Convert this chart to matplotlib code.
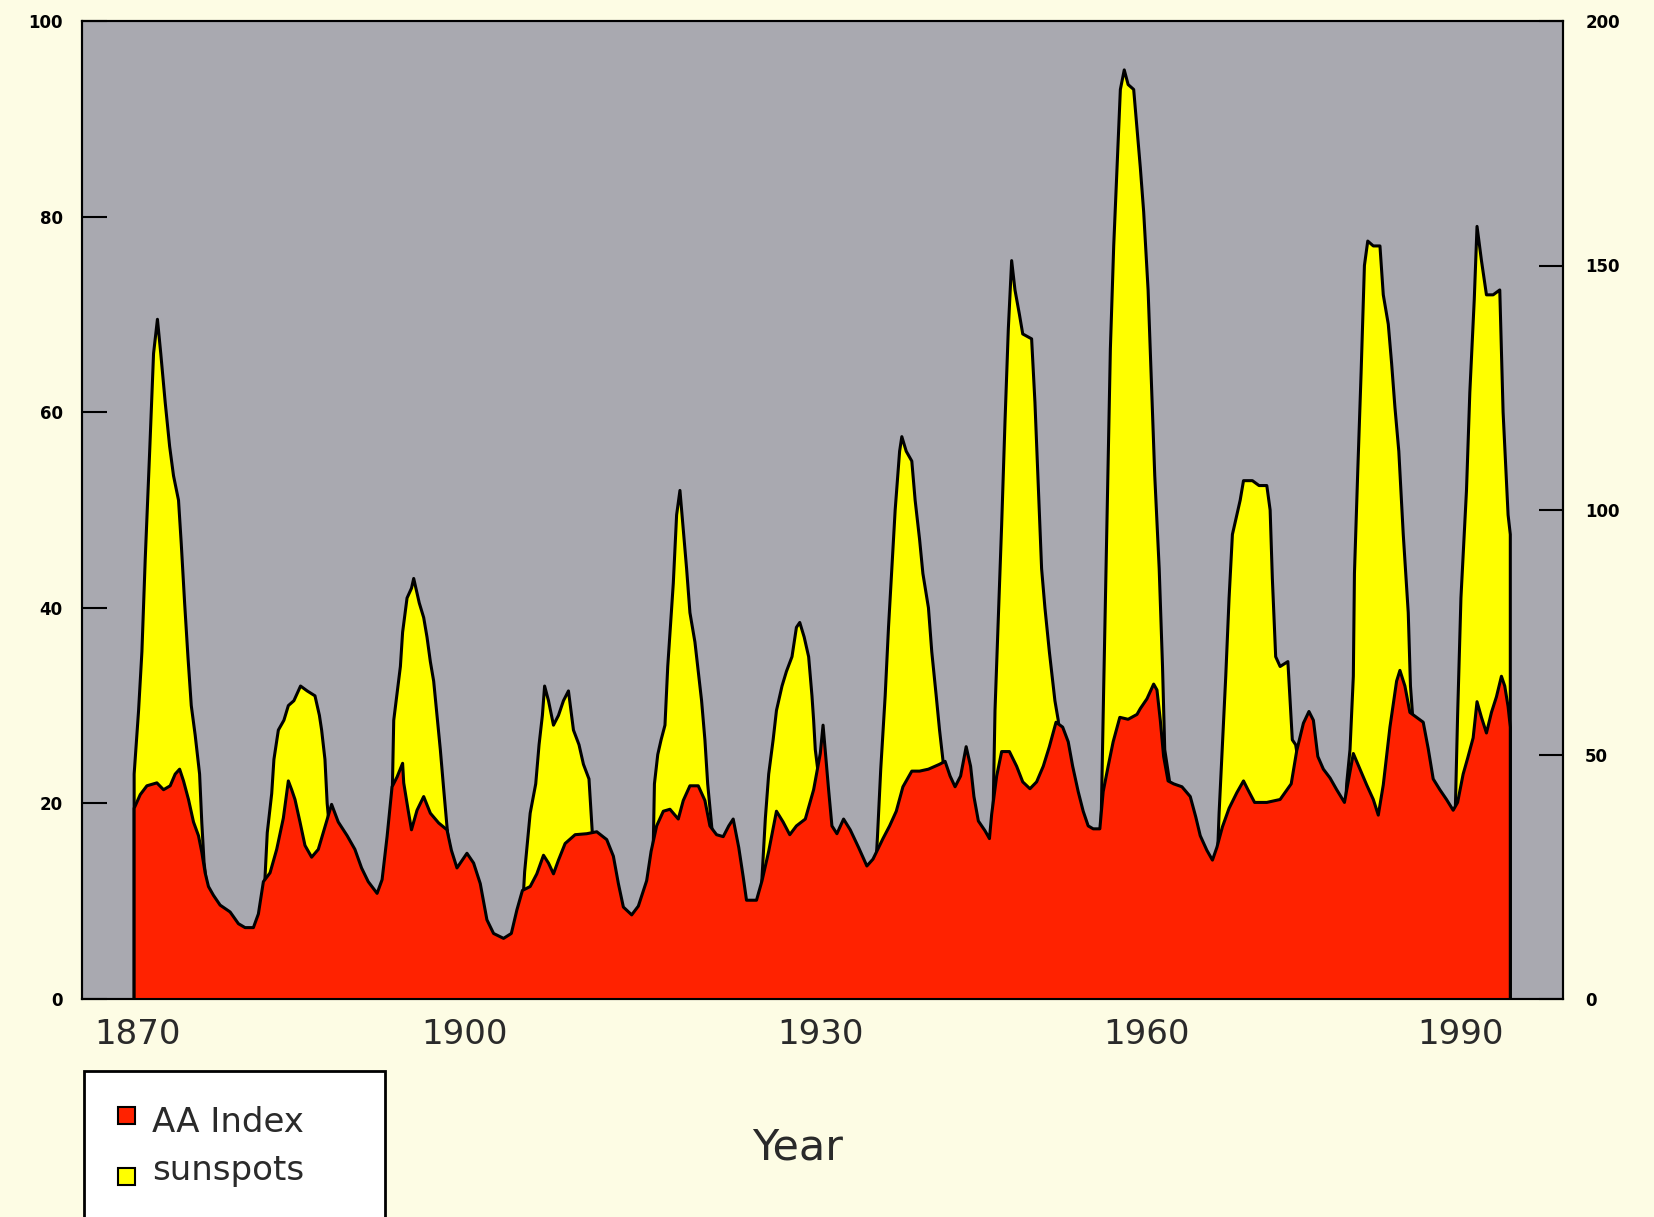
import numpy as np
import matplotlib
matplotlib.use('Agg')
import matplotlib.pyplot as plt
from matplotlib.patches import Rectangle

plt.rcParams['font.family'] = ['DejaVu Sans']

# smoothed sunspot number (right axis), vertices
ss_years = [1868.0, 1868.4, 1868.7, 1869.0, 1869.4, 1869.75, 1870.1, 1870.4, 1870.8, 1871.2,
            1871.55, 1872.0, 1872.25, 1872.55, 1872.85, 1873.15, 1873.5, 1873.9, 1874.1, 1874.3,
            1874.7, 1875.5, 1876.5, 1877.5, 1878.5, 1879.2, 1879.6, 1879.8, 1880.0, 1880.4,
            1880.6, 1881.0, 1881.5, 1881.9, 1882.4, 1883.0, 1883.6, 1884.3, 1884.7, 1884.9,
            1885.2, 1885.4, 1885.8, 1886.5, 1887.5, 1888.5, 1889.5, 1890.3, 1890.8, 1891.25,
            1891.4, 1892.0, 1892.2, 1892.6, 1893.0, 1893.2, 1893.7, 1894.1, 1894.4, 1894.7,
            1895.0, 1895.3, 1895.6, 1895.9, 1896.25, 1896.8, 1897.8, 1898.6, 1899.5, 1900.5,
            1901.5, 1902.5, 1903.0, 1903.2, 1903.7, 1904.2, 1904.5, 1904.8, 1905.0, 1905.35,
            1905.8, 1906.25, 1906.7, 1907.15, 1907.6, 1908.1, 1908.5, 1909.0, 1909.3, 1910.0,
            1911.0, 1912.0, 1913.0, 1914.0, 1914.7, 1914.8, 1914.9, 1915.2, 1915.5, 1915.85,
            1916.1, 1916.6, 1916.9, 1917.2, 1917.5, 1917.8, 1918.1, 1918.55, 1918.85, 1919.15,
            1919.45, 1919.7, 1920.2, 1921.0, 1922.0, 1923.2, 1924.0, 1924.5, 1924.6, 1924.9,
            1925.2, 1925.6, 1925.9, 1926.4, 1926.8, 1927.3, 1927.7, 1928.0, 1928.4, 1928.8,
            1929.1, 1929.25, 1929.4, 1930.0, 1931.0, 1932.0, 1933.3, 1934.2, 1934.8, 1935.0,
            1935.3, 1935.7, 1936.0, 1936.3, 1936.6, 1937.0, 1937.2, 1937.6, 1938.1, 1938.4,
            1938.8, 1939.1, 1939.6, 1939.9, 1940.3, 1940.6, 1940.9, 1941.5, 1942.5, 1943.5,
            1944.3, 1945.1, 1945.4, 1945.6, 1945.9, 1946.2, 1946.5, 1946.8, 1947.1, 1947.4,
            1947.8, 1948.1, 1948.9, 1949.2, 1949.5, 1949.8, 1950.1, 1950.5, 1951.0, 1951.3,
            1952.0, 1953.0, 1954.0, 1955.0, 1955.2, 1955.4, 1955.7, 1956.0, 1956.3, 1956.6,
            1956.9, 1957.25, 1957.6, 1958.1, 1958.4, 1958.7, 1959.0, 1959.4, 1959.7, 1960.0,
            1960.4, 1960.7, 1960.9, 1961.3, 1961.6, 1962.5, 1963.5, 1964.5, 1965.5, 1965.8,
            1966.1, 1966.4, 1966.7, 1967.0, 1967.4, 1967.7, 1968.0, 1968.8, 1969.4, 1970.1,
            1970.4, 1970.6, 1970.9, 1971.3, 1972.0, 1972.4, 1972.7, 1973.2, 1974.0, 1975.0,
            1976.0, 1977.0, 1977.3, 1977.6, 1977.9, 1978.0, 1978.3, 1978.6, 1978.9, 1979.2,
            1979.7, 1980.3, 1980.6, 1981.05, 1981.35, 1981.65, 1982.0, 1982.4, 1982.85, 1983.05,
            1983.5, 1984.5, 1985.5, 1986.5, 1987.0, 1987.3, 1987.6, 1988.1, 1988.4, 1988.8,
            1989.05, 1989.45, 1989.9, 1990.5, 1991.1, 1991.4, 1991.85, 1992.05]
ss_values = [46, 59, 71, 90, 112, 132, 139, 132, 122, 113,
             107, 102, 93, 81, 70, 60, 54, 46, 36, 28,
             20, 12, 8, 5, 3, 8, 18, 25, 34, 42,
             49, 55, 57, 60, 61, 64, 63, 62, 58, 55,
             49, 40, 30, 24, 16, 10, 6, 8, 18, 40,
             57, 68, 75, 82, 84, 86, 81, 78, 74, 69,
             65, 58, 51, 43, 34, 26, 22, 18, 10, 5,
             3, 8, 18, 26, 38, 44, 52, 58, 64, 61,
             56, 58, 61, 63, 55, 52, 48, 45, 34, 25,
             14, 6, 3, 12, 28, 32, 44, 50, 53, 56,
             68, 85, 99, 104, 96, 88, 79, 73, 67, 61,
             53, 44, 32, 26, 15, 6, 10, 20, 25, 37,
             46, 53, 59, 64, 67, 70, 76, 77, 74, 70,
             62, 57, 51, 40, 22, 12, 6, 8, 25, 33,
             47, 62, 76, 88, 100, 112, 115, 112, 110, 102,
             94, 87, 80, 71, 62, 55, 49, 35, 25, 15,
             8, 20, 35, 59, 78, 97, 118, 137, 151, 145,
             140, 136, 135, 122, 105, 88, 80, 71, 61, 57,
             40, 25, 10, 20, 40, 64, 98, 133, 154, 170,
             186, 190, 187, 186, 178, 170, 161, 145, 126, 107,
             88, 68, 51, 45, 40, 30, 25, 12, 20, 38,
             52, 66, 82, 95, 99, 102, 106, 106, 105, 105,
             100, 86, 70, 68, 69, 53, 52, 45, 35, 20,
             15, 30, 44, 51, 66, 87, 108, 128, 150, 155,
             154, 154, 144, 138, 130, 121, 112, 95, 79, 64,
             50, 40, 22, 14, 30, 58, 82, 104, 124, 143,
             158, 151, 144, 144, 145, 120, 99, 95]

# aa geomagnetic index (left axis)
aa_years = [1868.0, 1868.55, 1869.15, 1870.05, 1870.65, 1871.25, 1871.7, 1872.1, 1872.45, 1872.9,
            1873.35, 1873.8, 1874.1, 1874.4, 1874.7, 1875.15, 1875.75, 1876.65, 1877.4, 1878.0,
            1878.75, 1879.2, 1879.65, 1880.25, 1880.85, 1881.45, 1881.9, 1882.2, 1882.5, 1882.95,
            1883.4, 1884.0, 1884.6, 1885.2, 1885.8, 1886.4, 1887.2, 1887.9, 1888.5, 1889.1,
            1889.9, 1890.35, 1890.8, 1891.25, 1891.7, 1892.2, 1892.3, 1892.7, 1893.0, 1893.5,
            1894.1, 1894.7, 1895.45, 1896.2, 1896.6, 1897.1, 1898.0, 1898.6, 1899.2, 1899.8,
            1900.4, 1901.3, 1902.0, 1902.5, 1903.0, 1903.7, 1904.3, 1904.9, 1905.35, 1905.8,
            1906.25, 1906.85, 1907.75, 1908.8, 1909.7, 1910.6, 1911.2, 1911.65, 1912.1, 1912.85,
            1913.45, 1914.2, 1914.6, 1915.1, 1915.7, 1916.3, 1917.05, 1917.5, 1918.1, 1918.85,
            1919.45, 1919.9, 1920.5, 1921.1, 1921.6, 1922.0, 1922.5, 1922.9, 1923.2, 1924.1,
            1924.6, 1925.2, 1925.9, 1926.5, 1927.1, 1927.7, 1928.5, 1929.25, 1929.85, 1930.1,
            1930.6, 1930.9, 1931.35, 1931.95, 1932.55, 1933.3, 1934.05, 1934.6, 1935.5, 1936.1,
            1936.7, 1937.3, 1938.1, 1938.8, 1939.6, 1940.6, 1941.1, 1941.55, 1942.0, 1942.5,
            1943.0, 1943.4, 1943.7, 1944.1, 1944.7, 1945.1, 1945.3, 1945.75, 1946.2, 1946.9,
            1947.55, 1948.1, 1948.75, 1949.35, 1949.95, 1950.5, 1951.1, 1951.7, 1952.2, 1952.6,
            1953.1, 1953.55, 1954.0, 1954.45, 1955.05, 1955.35, 1955.8, 1956.25, 1956.85, 1957.6,
            1958.4, 1958.7, 1959.3, 1959.9, 1960.2, 1960.5, 1960.8, 1961.2, 1961.7, 1962.45,
            1963.2, 1963.7, 1964.1, 1964.7, 1965.2, 1965.6, 1966.1, 1966.7, 1967.4, 1968.0,
            1968.4, 1969.0, 1970.1, 1971.3, 1972.3, 1972.8, 1973.4, 1973.9, 1974.3, 1974.7,
            1975.2, 1975.8, 1976.4, 1977.1, 1977.9, 1978.5, 1979.1, 1979.7, 1980.15, 1980.6,
            1981.2, 1981.8, 1982.1, 1982.55, 1983.0, 1983.6, 1984.2, 1984.65, 1985.1, 1985.7,
            1986.3, 1986.9, 1987.3, 1987.8, 1988.2, 1988.7, 1989.05, 1989.45, 1989.9, 1990.35,
            1990.8, 1991.25, 1991.55, 1991.85, 1992.05]
aa_values = [19.5, 20.9, 21.8, 22.1, 21.4, 21.8, 23.0, 23.5, 22.3, 20.4,
             18.1, 16.7, 15.0, 12.9, 11.5, 10.6, 9.6, 8.9, 7.7, 7.3,
             7.3, 8.7, 12.0, 12.9, 15.3, 18.5, 22.3, 21.4, 20.4, 18.1,
             15.7, 14.5, 15.3, 17.6, 19.9, 18.1, 16.7, 15.3, 13.4, 12.0,
             10.8, 12.2, 16.6, 21.7, 22.7, 24.1, 22.1, 19.3, 17.3, 19.3,
             20.7, 19.0, 18.0, 17.3, 15.2, 13.4, 14.9, 13.9, 11.8, 8.1,
             6.7, 6.2, 6.7, 9.1, 11.1, 11.5, 12.8, 14.7, 13.9, 12.8,
             14.2, 15.9, 16.8, 16.9, 17.1, 16.3, 14.6, 11.8, 9.4, 8.6,
             9.5, 12.1, 15.1, 17.7, 19.2, 19.4, 18.4, 20.3, 21.8, 21.8,
             20.3, 17.7, 16.8, 16.6, 17.7, 18.4, 15.5, 12.5, 10.1, 10.1,
             12.1, 15.1, 19.2, 18.1, 16.8, 17.7, 18.4, 21.4, 25.1, 28.0,
             21.4, 17.7, 16.9, 18.4, 17.3, 15.5, 13.6, 14.3, 16.4, 17.7,
             19.2, 21.7, 23.3, 23.3, 23.5, 24.0, 24.3, 22.8, 21.7, 22.8,
             25.8, 23.8, 20.7, 18.2, 17.2, 16.4, 18.9, 22.8, 25.3, 25.3,
             23.8, 22.2, 21.5, 22.2, 23.8, 25.8, 28.3, 27.8, 26.3, 23.8,
             21.2, 19.2, 17.7, 17.4, 17.4, 21.2, 23.8, 26.3, 28.8, 28.6,
             29.1, 29.7, 30.7, 32.2, 31.6, 28.5, 24.8, 22.3, 22.0, 21.7,
             20.7, 18.6, 16.7, 15.2, 14.2, 15.5, 17.6, 19.5, 21.1, 22.3,
             21.4, 20.1, 20.1, 20.4, 22.0, 25.4, 28.2, 29.4, 28.5, 24.8,
             23.5, 22.6, 21.4, 20.1, 25.1, 23.5, 21.9, 20.4, 18.8, 21.9,
             27.8, 32.5, 33.6, 32.0, 29.3, 28.8, 28.3, 25.6, 22.5, 21.4,
             20.4, 19.3, 20.1, 23.0, 24.6, 26.7, 30.4, 28.8, 27.2, 29.3,
             30.9, 33.0, 32.0, 29.9, 27.8]

# x labels sit where the original printed them
tick_pos = [1868.3, 1897.8, 1929.9, 1959.3, 1987.6]
tick_labels = ['1870', '1900', '1930', '1960', '1990']

cream = '#fdfce4'
gray = '#a9a9b0'
yellow = '#ffff00'
red = '#ff2200'
textc = '#2a2a2a'

W, H = 1654, 1217


def fpx(x, y):
    # pixel (from top-left) -> figure fraction
    return x / W, 1 - y / H


fig = plt.figure(figsize=(W / 100, H / 100), dpi=100, facecolor=cream)
ax = fig.add_axes([82 / W, 1 - 999 / H, (1563 - 82) / W, (999 - 21) / H])
ax.set_facecolor(gray)
ax.set_xlim(1863.3, 1996.8)
ax.set_ylim(0, 200)

# sunspots behind
sx = np.array(ss_years)
sy = np.array(ss_values)
ax.fill_between(sx, sy, color=yellow, lw=0)
ax.plot(np.r_[sx[0], sx, sx[-1]], np.r_[0, sy, 0], color='black', lw=2.2)

# aa index in front
ax2 = ax.twinx()
ax2.set_ylim(0, 100)
axx = np.array(aa_years)
axy = np.array(aa_values)
ax2.fill_between(axx, axy, color=red, lw=0)
ax2.plot(np.r_[axx[0], axx, axx[-1]], np.r_[0, axy, 0], color='black', lw=2.2)

ax.yaxis.tick_right()
ax2.yaxis.tick_left()

ax.set_yticks([0, 50, 100, 150, 200])
ax2.set_yticks([0, 20, 40, 60, 80, 100])
ax.tick_params(axis='y', direction='in', length=17, width=1.5, pad=16, labelsize=12)
ax2.tick_params(axis='y', direction='in', length=18, width=1.5, pad=14, labelsize=12)
for lab in ax.get_yticklabels() + ax2.get_yticklabels():
    lab.set_fontweight('bold')

ax.set_xticks(tick_pos)
ax.set_xticklabels(tick_labels)
ax.tick_params(axis='x', length=0, pad=13.5, labelsize=24.5, labelcolor=textc)

for a in (ax, ax2):
    for sp in a.spines.values():
        sp.set_linewidth(1.5)
        sp.set_color('black')

fig.text(*fpx(798, 1160), 'Year', ha='center', va='baseline', fontsize=31, color=textc)

# legend box running off the bottom edge
bx, by = fpx(84, 1240)
fig.add_artist(Rectangle((bx, by), 301 / W, (1240 - 1071) / H, transform=fig.transFigure,
                         facecolor='white', edgecolor='black', lw=2))
for sq_y, base_y, col, name in [(1107, 1132, red, 'AA Index'), (1168, 1180, yellow, 'sunspots')]:
    qx, qy = fpx(118, sq_y + 17)
    fig.add_artist(Rectangle((qx, qy), 17 / W, 17 / H, transform=fig.transFigure,
                             facecolor=col, edgecolor='black', lw=1.5))
    fig.text(*fpx(152, base_y), name, ha='left', va='baseline', fontsize=24.5, color=textc)

fig.savefig('out.png', dpi=100, facecolor=cream)
